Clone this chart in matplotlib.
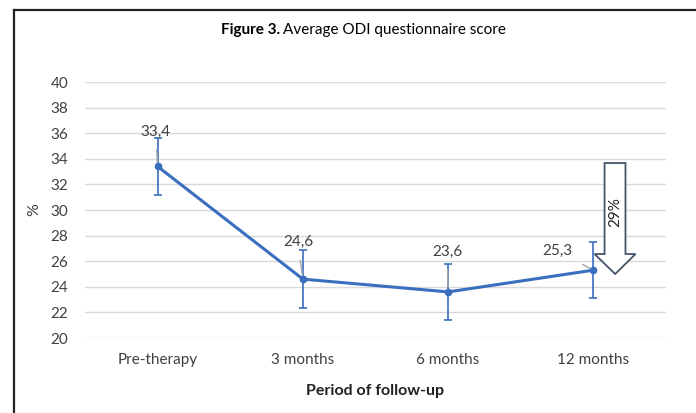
import matplotlib
matplotlib.use("Agg")
import matplotlib.pyplot as plt
from matplotlib.lines import Line2D
from matplotlib.patches import Polygon
import numpy as np

plt.rcParams['font.family'] = ['Lato', 'DejaVu Sans']

# data
periods = ['Pre-therapy', '3 months', '6 months', '12 months']
odi_mean = [33.4, 24.6, 23.6, 25.3]
odi_err = [2.2, 2.25, 2.2, 2.2]
value_labels = ['33,4', '24,6', '23,6', '25,3']
label_offsets = [(-1.4, 25), (-3.6, 26.6), (-0.7, 28.8), (-26, 13.7)]
yticks = np.arange(20, 41, 2)

blue = '#3A6EBF'
txt = '#404040'

fig = plt.figure(figsize=(6.96, 4.13), dpi=100)
W, H = 696, 413
ax = fig.add_axes([85 / W, (H - 338) / H, (666 - 85) / W, (338 - 82) / H])

x = np.arange(len(periods))
ax.errorbar(x, odi_mean, yerr=odi_err, color=blue, lw=2.2, marker='o', ms=4.5,
            ecolor=blue, elinewidth=1.2, capsize=3, capthick=1.2, zorder=3)

ax.set_xlim(-0.5, len(periods) - 0.5)
ax.set_ylim(20, 40)
ax.set_yticks(yticks)
ax.set_xticks(x)
ax.set_xticklabels(periods)
ax.yaxis.grid(True, color='#D9D9D9', lw=1)
ax.set_axisbelow(True)
for s in ax.spines.values():
    s.set_visible(False)
ax.tick_params(axis='both', length=0, labelsize=11, labelcolor=txt)
ax.tick_params(axis='y', pad=12)
ax.tick_params(axis='x', pad=11)

# data labels with leader lines
for xi, yi, lab, off in zip(x, odi_mean, value_labels, label_offsets):
    ax.annotate(lab, (xi, yi), xytext=off, textcoords='offset points',
                ha='center', va='center', fontsize=11, color=txt,
                arrowprops=dict(arrowstyle='-', color='#A6A6A6', lw=1,
                                shrinkA=6, shrinkB=3))

# block arrow showing the 29% drop
arrow = Polygon([(3.077, 33.67), (3.221, 33.67), (3.221, 26.56), (3.29, 26.56),
                 (3.15, 25.0), (3.008, 26.56), (3.077, 26.56)],
                closed=True, fill=True, facecolor='white', edgecolor='#44546A',
                lw=1.3, zorder=4, clip_on=False)
ax.add_patch(arrow)
ax.text(3.15, 29.8, '29%', rotation=90, ha='center', va='center',
        fontsize=11, color='#222222', zorder=5)

ax.set_ylabel('%', fontsize=11.5, color=txt)
ax.yaxis.set_label_coords(-0.075, 0.5)
ax.set_xlabel('Period of follow-up', fontsize=11.5, fontweight='bold',
              color='#222222', labelpad=12)

# title
fig.text(280 / W, 1 - 30 / H, 'Figure 3.', fontweight='bold', fontsize=11,
         ha='right', va='center', color='black')
fig.text(283 / W, 1 - 30 / H, 'Average ODI questionnaire score', fontsize=11,
         ha='left', va='center', color='black')

# frame around the figure (left and top)
fig.add_artist(Line2D([14 / W, 14 / W], [0, 1 - 10 / H], color='#222222', lw=1.6))
fig.add_artist(Line2D([14 / W, 1], [1 - 10 / H, 1 - 10 / H], color='#222222', lw=1.6))

fig.savefig('out.png', dpi=100)
